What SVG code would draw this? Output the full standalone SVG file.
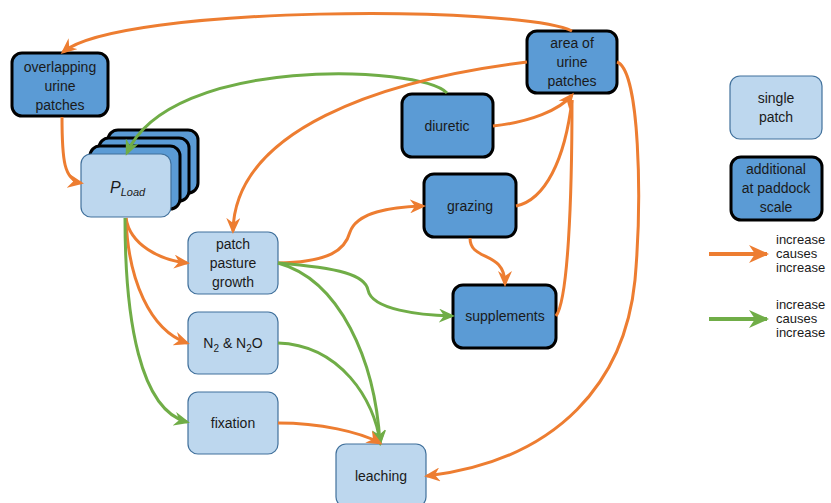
<svg xmlns="http://www.w3.org/2000/svg" width="831" height="503" viewBox="0 0 831 503">
<style>
.lt{fill:#BDD7EE;stroke:#41719C;stroke-width:1.2}
.dk{fill:#5B9BD5;stroke:#000;stroke-width:3}
.t{font-family:"Liberation Sans",Arial,sans-serif;font-size:14px;fill:#1a1a1a;text-anchor:middle}
.lg{font-family:"Liberation Sans",Arial,sans-serif;font-size:13px;fill:#1a1a1a}
.o{fill:none;stroke:#ED7D31;stroke-width:3;marker-end:url(#ao)}
.g{fill:none;stroke:#70AD47;stroke-width:3;marker-end:url(#ag)}
.on{fill:none;stroke:#ED7D31;stroke-width:3}
</style>
<defs>
<marker id="ao" viewBox="0 0 16 14" refX="13" refY="7" markerWidth="16" markerHeight="14" markerUnits="userSpaceOnUse" orient="auto"><path d="M0,0 L16,7 L0,14 L5,7 z" fill="#ED7D31"/></marker>
<marker id="ag" viewBox="0 0 16 14" refX="13" refY="7" markerWidth="16" markerHeight="14" markerUnits="userSpaceOnUse" orient="auto"><path d="M0,0 L16,7 L0,14 L5,7 z" fill="#70AD47"/></marker>
<marker id="lo" viewBox="0 0 20 18" refX="18" refY="9" markerWidth="20" markerHeight="18" markerUnits="userSpaceOnUse" orient="auto"><path d="M0,0 L20,9 L0,18 L6,9 z" fill="#ED7D31"/></marker>
<marker id="lgm" viewBox="0 0 20 18" refX="18" refY="9" markerWidth="20" markerHeight="18" markerUnits="userSpaceOnUse" orient="auto"><path d="M0,0 L20,9 L0,18 L6,9 z" fill="#70AD47"/></marker>
</defs>
<rect width="831" height="503" fill="#fff"/>

<g id="overlapping">
<rect class="dk" x="12" y="53" width="96" height="63" rx="10"/>
<text class="t" x="60" y="72">overlapping</text>
<text class="t" x="60" y="91">urine</text>
<text class="t" x="60" y="110">patches</text>
</g>

<g id="pload">
<rect class="dk" x="108" y="130" width="90" height="63" rx="10"/>
<rect class="dk" x="99" y="138" width="90" height="63" rx="10"/>
<rect class="dk" x="90" y="146" width="90" height="63" rx="10"/>
<rect class="lt" x="81" y="154" width="90" height="63" rx="10"/>
<text x="110" y="193" font-family="Liberation Sans,Arial,sans-serif" font-style="italic" fill="#1a1a1a"><tspan font-size="16">P</tspan><tspan font-size="11" dy="3">Load</tspan></text>
</g>

<g id="area">
<rect class="dk" x="527" y="31" width="90" height="62" rx="10"/>
<text class="t" x="572" y="48">area of</text>
<text class="t" x="572" y="67">urine</text>
<text class="t" x="572" y="86">patches</text>
</g>

<g id="diuretic">
<rect class="dk" x="402" y="94" width="91" height="63" rx="10"/>
<text class="t" x="447" y="131">diuretic</text>
</g>

<g id="grazing">
<rect class="dk" x="424" y="174" width="92" height="63" rx="10"/>
<text class="t" x="470" y="211">grazing</text>
</g>

<g id="supplements">
<rect class="dk" x="453" y="285" width="103" height="63" rx="10"/>
<text class="t" x="505" y="321">supplements</text>
</g>

<g id="growth">
<rect class="lt" x="188" y="232" width="90" height="62" rx="10"/>
<text class="t" x="233" y="249">patch</text>
<text class="t" x="233" y="268">pasture</text>
<text class="t" x="233" y="287">growth</text>
</g>

<g id="n2">
<rect class="lt" x="188" y="312" width="90" height="62" rx="10"/>
<text class="t" x="233" y="348">N<tspan font-size="10" dy="4">2</tspan><tspan dy="-4"> &amp; N</tspan><tspan font-size="10" dy="4">2</tspan><tspan dy="-4">O</tspan></text>
</g>

<g id="fixation">
<rect class="lt" x="188" y="392" width="90" height="62" rx="10"/>
<text class="t" x="233" y="428">fixation</text>
</g>

<g id="leaching">
<rect class="lt" x="336" y="444" width="90" height="63" rx="10"/>
<text class="t" x="381" y="481">leaching</text>
</g>

<g id="connectors">
<path class="o" d="M572,31 C520,5 120,5 63,52"/>
<path class="o" d="M62,117 C62,160 64,180 81,183"/>
<path class="g" d="M447,93 C420,65 170,55 127,153"/>
<path class="o" d="M527,62 C380,80 235,130 233,231"/>
<path class="o" d="M493,126 C530,122 560,110 572,95"/>
<path class="on" d="M516,206 C545,200 565,160 572,100"/>
<path class="on" d="M556,316 C568,300 572,200 572,100"/>
<path class="o" d="M617,62 C640,70 642,200 635,280 C625,380 560,460 427,476"/>
<path class="o" d="M126,218 C130,245 160,260 187,263"/>
<path class="o" d="M126,218 C128,280 150,330 187,343"/>
<path class="g" d="M125,218 C125,320 140,410 187,422"/>
<path class="o" d="M278,263 C330,262 345,250 350,232 C357,212 390,207 423,206"/>
<path class="g" d="M278,263 C340,268 365,275 368,290 C372,310 420,315 452,316"/>
<path class="g" d="M278,263 C340,280 375,360 380,443"/>
<path class="g" d="M278,343 C340,345 375,400 380,443"/>
<path class="o" d="M278,423 C320,423 360,432 380,443"/>
<path class="o" d="M470,238 C470,262 505,250 505,284"/>
</g>

<g id="legend">
<g id="leg-single">
<rect class="lt" x="730" y="76" width="92" height="63" rx="10"/>
<text class="t" x="776" y="103">single</text>
<text class="t" x="776" y="122">patch</text>
</g>
<g id="leg-additional">
<rect class="dk" x="731" y="157" width="91" height="63" rx="10"/>
<text class="t" x="776" y="174">additional</text>
<text class="t" x="776" y="193">at paddock</text>
<text class="t" x="776" y="212">scale</text>
</g>
<path d="M709,254 L767,254" fill="none" stroke="#ED7D31" stroke-width="4" marker-end="url(#lo)"/>
<text class="lg" x="776" y="244">increase</text>
<text class="lg" x="776" y="258">causes</text>
<text class="lg" x="776" y="272">increase</text>
<path d="M709,319 L767,319" fill="none" stroke="#70AD47" stroke-width="4" marker-end="url(#lgm)"/>
<text class="lg" x="776" y="309">increase</text>
<text class="lg" x="776" y="323">causes</text>
<text class="lg" x="776" y="337">increase</text>
</g>
</svg>
